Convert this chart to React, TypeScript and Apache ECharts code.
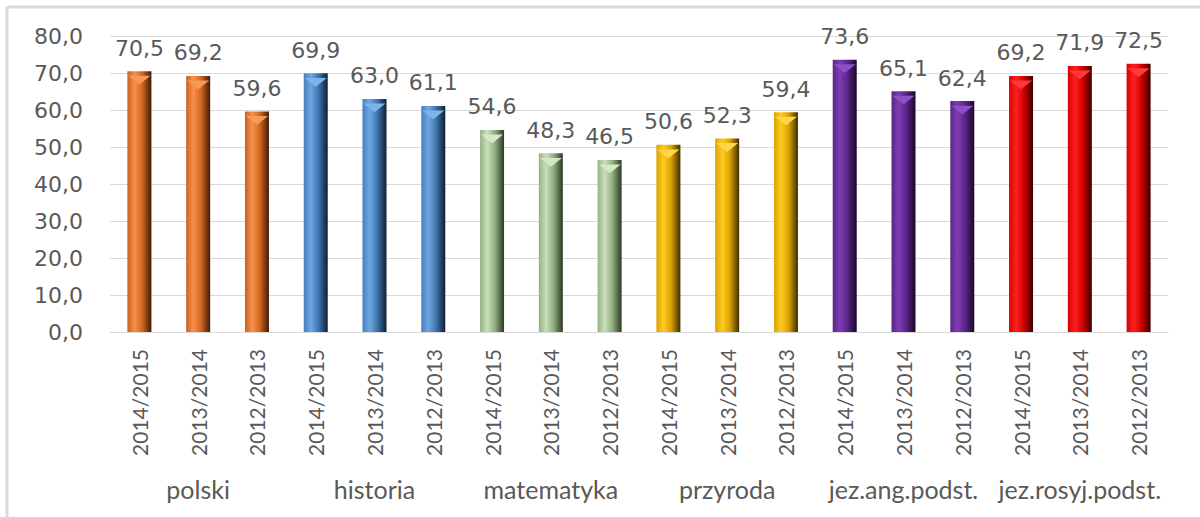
import React, { useEffect, useRef } from "react";
import * as echarts from "echarts";

const groups = ["polski", "historia", "matematyka", "przyroda", "jez.ang.podst.", "jez.rosyj.podst."];
const years = ["2014/2015", "2013/2014", "2012/2013"];
const values = [
  70.5, 69.2, 59.6,
  69.9, 63.0, 61.1,
  54.6, 48.3, 46.5,
  50.6, 52.3, 59.4,
  73.6, 65.1, 62.4,
  69.2, 71.9, 72.5,
];
const yTicks = [0, 10, 20, 30, 40, 50, 60, 70, 80];

// [left edge, highlight, mid, dark right edge, top facet]
const groupColors = [
  ["#C9621F", "#F7914B", "#D4671F", "#3E1A05", "#F39A5C"],
  ["#4580BE", "#6EA8E2", "#3F74AC", "#0D1E33", "#7DB3EA"],
  ["#93B283", "#C9DFBA", "#8FAE7F", "#2C3826", "#D4E8C6"],
  ["#D9A400", "#FFCB22", "#D9A000", "#3E2D00", "#FFD54A"],
  ["#5A2686", "#7D3DB3", "#5A2488", "#1A0829", "#8D4FC3"],
  ["#D80000", "#FF2020", "#D00000", "#3A0000", "#FF3A3A"],
];

const fmt = (v: number) => v.toFixed(1).replace(".", ",");

export default function App() {
  const ref = useRef<HTMLDivElement>(null);
  useEffect(() => {
    if (!ref.current) return;
    const chart = echarts.init(ref.current, null, { renderer: "svg" });
    const categories: string[] = [];
    groups.forEach(() => years.forEach((y) => categories.push(y)));
    const barData = values.map((v, i) => {
      const c = groupColors[Math.floor(i / years.length)];
      return {
        value: v,
        itemStyle: {
          color: new echarts.graphic.LinearGradient(0, 0, 1, 0, [
            { offset: 0, color: c[0] },
            { offset: 0.3, color: c[1] },
            { offset: 0.62, color: c[2] },
            { offset: 1, color: c[3] },
          ]),
        },
      };
    });
    const topData = values.map((v, i) => {
      const c = groupColors[Math.floor(i / years.length)];
      return { value: v, itemStyle: { color: c[4] } };
    });
    chart.setOption({
      animation: false,
      backgroundColor: "#ffffff",
      grid: { left: 110, right: 32, top: 36, bottom: 185, containLabel: false },
      xAxis: [
        {
          type: "category",
          data: categories,
          axisLine: { show: true, lineStyle: { color: "#D9D9D9", width: 1 } },
          axisTick: { show: false },
          axisLabel: {
            rotate: 90,
            interval: 0,
            margin: 17,
            color: "#595959",
            fontFamily: "Lato",
            fontSize: 21,
          },
        },
        {
          type: "category",
          data: groups,
          position: "bottom",
          offset: 136,
          axisLine: { show: false },
          axisTick: { show: false },
          axisLabel: {
            interval: 0,
            margin: 8,
            color: "#595959",
            fontFamily: "Lato",
            fontSize: 25,
          },
        },
      ],
      yAxis: {
        type: "value",
        min: 0,
        max: 80,
        interval: 10,
        axisLine: { show: false },
        axisTick: { show: false },
        splitLine: { lineStyle: { color: "#D9D9D9", width: 1 } },
        axisLabel: {
          margin: 27,
          color: "#595959",
          fontFamily: "DejaVu Sans",
          fontSize: 22,
          formatter: (v: number) => (yTicks.includes(v) ? fmt(v) : ""),
        },
      },
      series: [
        {
          type: "bar",
          xAxisIndex: 0,
          data: barData,
          barWidth: 24,
          label: {
            show: true,
            position: "top",
            distance: 12,
            color: "#595959",
            fontFamily: "DejaVu Sans",
            fontSize: 22,
            formatter: (p: any) => fmt(p.value),
          },
          z: 2,
        },
        {
          type: "pictorialBar",
          xAxisIndex: 0,
          data: topData,
          symbol: "triangle",
          symbolRotate: 180,
          symbolSize: [22, 9],
          symbolPosition: "end",
          symbolOffset: [0, "50%"],
          silent: true,
          z: 3,
        },
      ],
      graphic: [
        { type: "line", shape: { x1: 7, y1: 7, x2: 1200, y2: 7 }, style: { stroke: "#D9D9D9", lineWidth: 3 } },
        { type: "line", shape: { x1: 7, y1: 7, x2: 7, y2: 517 }, style: { stroke: "#D9D9D9", lineWidth: 3 } },
      ],
    });
    return () => chart.dispose();
  }, []);
  return (
    <div
      ref={ref}
      style={{ position: "absolute", left: 0, top: 0, width: 1200, height: 517 }}
    />
  );
}
